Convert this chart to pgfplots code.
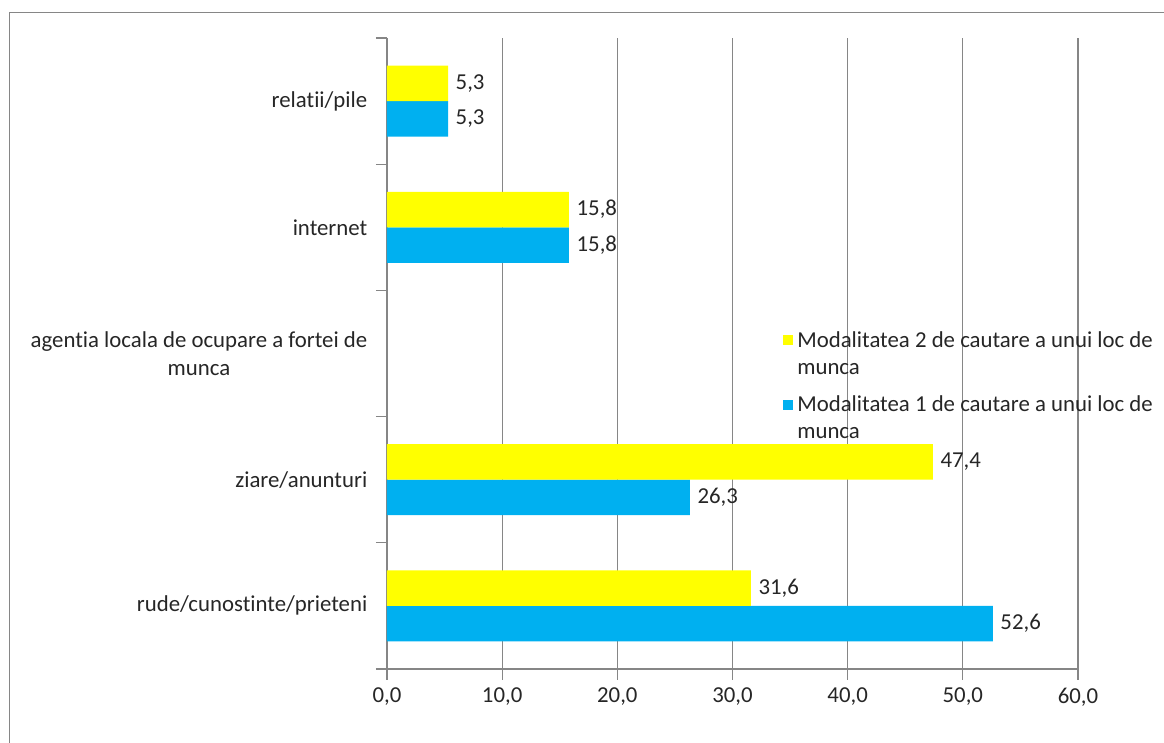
\documentclass[border=0pt,11pt]{standalone}
\usepackage{fontspec}
\setmainfont[Ligatures={NoCommon}]{Carlito}
\usepackage{pgfplots}
\pgfplotsset{compat=1.18}

\definecolor{mod2}{RGB}{255,255,0}
\definecolor{mod1}{RGB}{0,176,240}
\definecolor{gridc}{RGB}{134,134,134}
\definecolor{txt}{RGB}{38,38,38}

\begin{document}
\begin{tikzpicture}
% page = 1164 x 743 px, 1 px = 0.5 pt, origin at the plot's lower left
\useasboundingbox (-193.5pt,-37pt) rectangle (388.5pt,334.5pt);
\draw[gridc, line width=0.8pt] (-188.75pt,-40pt) -- (-188.75pt,328.25pt) -- (392pt,328.25pt);

\begin{axis}[
  at={(0,0)}, anchor=south west,
  scale only axis, width=345.5pt, height=315.5pt,
  xbar=0pt, bar width=17.75pt,
  xmin=0, xmax=60, ymin=-0.5, ymax=4.5,
  axis x line*=bottom, axis y line*=left,
  axis line style={gridc, line width=0.6pt, -},
  xtick pos=bottom, ytick pos=left,
  tick align=outside, major tick length=5.5pt,
  xtick={0,10,...,60},
  xtick style={gridc, line width=0.6pt},
  xmajorgrids, grid style={gridc, line width=0.6pt},
  /pgf/number format/assume math mode=true,
  xticklabel style={font=\fontsize{11.4}{13.5}\selectfont, text=txt,
    /pgf/number format/.cd, fixed, fixed zerofill, precision=1, use comma},
  ytick={0,1,2,3,4},
  ytick style={draw=none},
  yticklabels={rude/cunostinte/prieteni, ziare/anunturi,
    {agentia locala de ocupare a fortei de\\munca}, internet, relatii/pile},
  yticklabel style={font=\fontsize{11.4}{14}\selectfont, text=txt, align=center, xshift=-0.5pt},
  extra y ticks={-0.5,0.5,1.5,2.5,3.5,4.5},
  extra y tick labels={},
  extra y tick style={ytick style={draw=gridc, line width=0.6pt}},
  nodes near coords={\pgfmathprintnumber[fixed,fixed zerofill,precision=1,use comma]{\pgfplotspointmeta}},
  nodes near coords align={horizontal},
  every node near coord/.append style={font=\fontsize{11.4}{13.5}\selectfont, text=txt},
  legend style={at={(0.573,0.542)}, anchor=north west, draw=none, fill=none,
    font=\fontsize{11.4}{13.5}\selectfont, text=txt, cells={align=left},
    row sep=5pt, inner sep=0pt},
  legend image code/.code={\fill[#1] (0pt,4.5pt) rectangle (5pt,9.5pt);},
  reverse legend,
]
\addplot[fill=mod1, draw=none] coordinates {(52.6,0) (26.3,1) (15.8,3) (5.3,4)};
\addplot[fill=mod2, draw=none] coordinates {(31.6,0) (47.4,1) (15.8,3) (5.3,4)};
\legend{{Modalitatea 1 de cautare a unui loc de\\munca},
        {Modalitatea 2 de cautare a unui loc de\\munca}}
\end{axis}
\end{tikzpicture}
\end{document}
